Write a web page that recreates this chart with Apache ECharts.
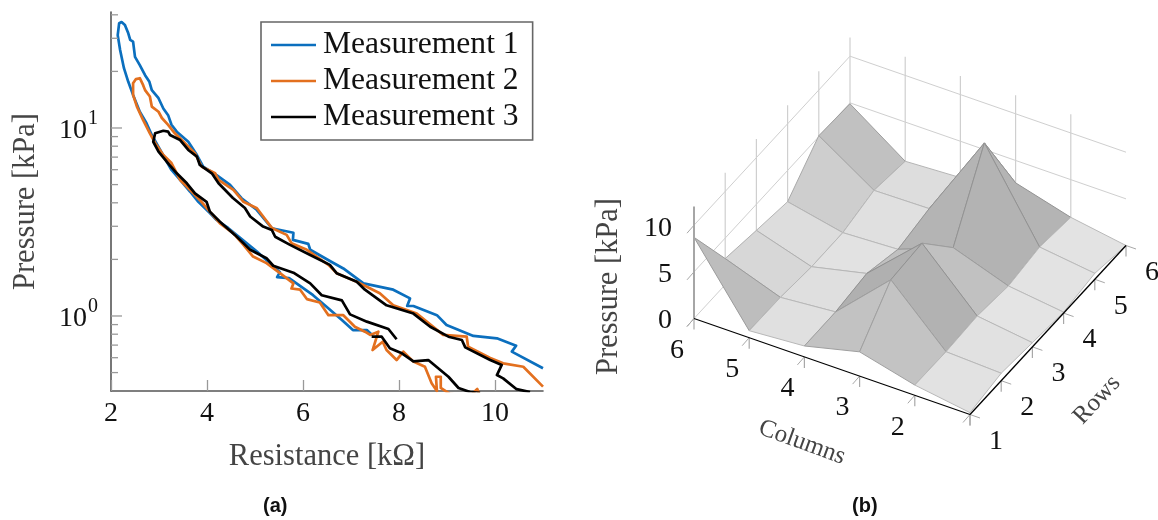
<!DOCTYPE html>
<html><head><meta charset="utf-8">
<style>html,body{margin:0;padding:0;background:#fff}#c{width:1158px;height:520px}</style>
<script src="https://cdn.jsdelivr.net/npm/echarts@6/dist/echarts.min.js"></script>
</head><body><div id="c"></div>
<script>
var measurement1 = [[11.0,.527],[10.35,.646],[10.44,.695],[10.04,.761],[9.55,.783],[8.99,.895],[8.79,1.01],[8.30,1.13],[8.17,1.13],[8.23,1.24],[7.88,1.38],[7.26,1.49],[6.84,1.79],[6.56,1.96],[6.15,2.25],[6.11,2.42],[5.79,2.54],[5.80,2.77],[5.35,2.93],[5.04,3.66],[4.72,4.23],[4.48,4.98],[4.20,5.62],[3.92,6.22],[3.79,7.18],[3.61,8.45],[3.37,9.56],[3.26,10.4],[3.19,11.7],[3.09,12.7],[2.99,14.4],[2.85,15.9],[2.80,17.6],[2.71,19.1],[2.60,21.6],[2.50,23.9],[2.46,28.8],[2.40,29.4],[2.36,31.9],[2.29,35.3],[2.22,36.6],[2.17,36.1],[2.14,31.2],[2.19,26.0],[2.27,20.8],[2.36,17.6],[2.46,15.0],[2.60,12.2],[2.74,10.6],[2.85,9.18],[3.06,7.36],[3.26,5.98],[3.44,5.29],[3.65,4.58],[3.82,4.05],[4.06,3.53],[4.20,3.24],[4.44,2.94],[5.04,2.20],[5.52,1.71],[5.46,1.61],[5.71,1.59],[6.21,1.29],[6.49,1.12],[6.81,.952],[7.04,.842],[7.33,.842],[7.44,.793]];
var measurement2 = [[11.0,.421],[10.59,.537],[10.17,.560],[9.90,.598],[9.44,.686],[9.41,.776],[8.92,.793],[8.37,1.03],[7.88,1.14],[7.60,1.32],[7.12,1.52],[6.70,1.69],[6.53,1.87],[6.08,2.25],[5.76,2.44],[5.66,2.70],[5.35,2.94],[5.17,3.38],[5.04,3.74],[4.76,4.05],[4.55,4.68],[4.24,5.29],[4.17,5.74],[3.89,6.22],[3.75,7.33],[3.51,8.45],[3.33,9.37],[3.19,10.4],[3.06,11.3],[2.99,12.2],[2.85,13.0],[2.81,14.7],[2.71,15.9],[2.67,16.9],[2.60,18.4],[2.52,18.2],[2.46,17.3],[2.46,15.0],[2.54,13.0],[2.67,11.0],[2.81,9.37],[2.92,8.32],[3.09,7.18],[3.26,6.51],[3.44,5.29],[3.65,4.68],[3.85,4.14],[4.03,3.66],[4.27,3.11],[4.55,2.75],[4.76,2.39],[4.96,2.07],[5.24,1.91],[5.52,1.69],[5.80,1.49],[5.76,1.40],[5.94,1.38],[6.08,1.23],[6.35,1.18],[6.53,1.01],[6.84,1.01],[7.08,.877],[7.29,.825],[7.40,.793],[7.57,.825],[7.45,.659],[7.66,.730],[7.74,.659],[7.95,.583],[8.09,.646],[8.30,.572],[8.54,.537],[8.68,.439],[8.79,.399],[8.77,.475],[8.87,.475],[8.87,.414],[9.06,.385],[9.48,.375],[9.63,.409],[9.69,.375]];
var measurement3 = [[10.73,.394],[10.45,.408],[10.17,.466],[10.04,.485],[10.14,.549],[9.90,.583],[9.38,.681],[9.31,.745],[9.03,.776],[8.65,.877],[8.30,1.03],[7.74,1.14],[7.29,1.38],[7.12,1.52],[6.70,1.69],[6.56,1.87],[6.15,2.11],[5.73,2.39],[5.42,2.64],[5.35,2.87],[5.17,2.99],[4.90,3.38],[4.79,3.75],[4.54,4.24],[4.24,5.08],[4.10,5.74],[3.85,6.36],[3.79,7.04],[3.61,7.64],[3.44,8.63],[3.23,9.18],[3.19,9.56],[3.09,9.67],[2.92,9.37],[2.88,8.45],[2.99,7.48],[3.19,6.49],[3.37,5.74],[3.58,5.08],[3.75,4.49],[3.99,4.05],[4.06,3.59],[4.27,3.17],[4.58,2.70],[4.90,2.25],[5.24,2.03],[5.38,1.85],[5.80,1.70],[6.15,1.49],[6.39,1.29],[6.81,1.21],[6.98,1.02],[7.33,.933],[7.78,.853],[7.95,.752],[7.95,null],[7.43,.776],[7.64,.776],[7.81,.673],[8.06,.633],[8.30,.574],[8.61,.583],[9.03,.475],[9.24,.414],[9.48,.394],[9.69,.39]];
var xTickValues = [2,4,6,8,10];
var yMajorTicks = [1,10];
var yMinorTicks = [.5,.6,.7,.8,.9,2,3,4,5,6,7,8,9,20,30,40];

var columnValues = [6,5,4,3,2,1];
var rowValues = [1,2,3,4,5,6];
var zTicks = [0,5,10];
// pressure: one line per row (1..6), values in column order 6..1
var pressureRow1 = [8.7,0.75,1.17,2.6,1.1,0.2];
var pressureRow2 = [2.8,0.7,1.2,6.7,1.05,0.8];
var pressureRow3 = [2.2,0.36,1.7,7.0,1.25,0.45];
var pressureRow4 = [1.65,0.39,0.66,2.9,0.85,0.1];
var pressureRow5 = [5.1,1.3,1.4,10.5,1.4,0.64];
var pressureRow6 = [4.9,0.8,1.1,2.6,0.96,0];
var pressure = [pressureRow1,pressureRow2,pressureRow3,pressureRow4,pressureRow5,pressureRow6];

var SERIF = '"Liberation Serif"';
var DIGIT = 28, TITLE = 30.5;
var ZTOP = 12;
// oblique projection of (column, row, pressure) into the hidden axes of the right-hand plot
var STEP = {cx:55.2, cy:19.2, rx:31.2, ry:33.8, z:9.33, base:96};
function proj(c,r,z){
  return [(6-c)*STEP.cx+(r-1)*STEP.rx, STEP.base-(6-c)*STEP.cy+(r-1)*STEP.ry+z*STEP.z];
}
function P(api,c,r,z){return api.coord(proj(c,r,z));}
function line(a,b,col,w){return {type:'line',shape:{x1:a[0],y1:a[1],x2:b[0],y2:b[1]},style:{stroke:col,lineWidth:w||1,fill:null},silent:true};}
function txt(s,x,y,opt){opt=opt||{};return {type:'text',x:x,y:y,rotation:opt.rot||0,silent:true,
  style:{text:s,fill:opt.fill||'#111',font:(opt.size||DIGIT)+'px '+SERIF,align:opt.align||'center',verticalAlign:'middle'}};}

var cells=[];
for(var ri=4;ri>=0;ri--){for(var ci=0;ci<5;ci++){cells.push([ci,ri]);}}

function gray(m){var g=Math.round(Math.max(165,Math.min(232,238-15*m)));return g;}
function rgb(g){return 'rgb('+g+','+g+','+g+')';}

var GRID='#cfcfcf', TICK='#a8a8a8';

var option={
  animation:false,
  backgroundColor:'#fff',
  grid:[
    {left:111,top:12,width:432,height:379,containLabel:false},
    {left:694,top:37,width:432,height:377.5,containLabel:false}
  ],
  xAxis:[
    {type:'value',gridIndex:0,min:2,max:11,
     name:'Resistance [k\u03a9]',nameLocation:'middle',nameGap:50,
     nameTextStyle:{fontFamily:SERIF,fontSize:TITLE,color:'#444'},
     axisLine:{show:true,onZero:false,lineStyle:{color:'#555',width:1.6}},
     axisTick:{show:true,inside:true,length:11,customValues:xTickValues,lineStyle:{color:'#999',width:1.3}},
     axisLabel:{customValues:xTickValues,margin:9,fontFamily:SERIF,fontSize:DIGIT,color:'#111'},
     splitLine:{show:false}},
    {type:'value',gridIndex:1,min:0,max:432,show:false}
  ],
  yAxis:[
    {type:'log',logBase:10,gridIndex:0,min:0.399,max:41.4,
     name:'Pressure [kPa]',nameLocation:'middle',nameGap:70,nameRotate:90,
     nameTextStyle:{fontFamily:SERIF,fontSize:TITLE,color:'#444'},
     axisLine:{show:true,onZero:false,lineStyle:{color:'#555',width:1.6}},
     axisTick:{show:false},
     axisLabel:{show:false},
     splitLine:{show:false},minorTick:{show:false},minorSplitLine:{show:false}},
    {type:'value',gridIndex:1,min:0,max:377.5,show:false}
  ],
  legend:{
    left:261,top:22,orient:'vertical',
    data:['Measurement 1','Measurement 2','Measurement 3'],
    itemWidth:45,itemHeight:2.6,itemGap:4,
    padding:[7,14,7,10],
    borderColor:'#666',borderWidth:1.6,backgroundColor:'#fff',
    textStyle:{fontFamily:SERIF,fontSize:31.6,color:'#111',padding:[0,0,0,2]},
    selectedMode:false,
    icon:'rect'
  },
  series:[
    lineSeries('Measurement 1',measurement1,'#0b6fbe'),
    lineSeries('Measurement 2',measurement2,'#e3701f'),
    lineSeries('Measurement 3',measurement3,'#000000'),
    // y ticks and labels of the log axis
    {type:'custom',xAxisIndex:0,yAxisIndex:0,coordinateSystem:'cartesian2d',silent:true,clip:false,z:5,
     data:yMinorTicks.map(function(v){return [2,v,7];}).concat(yMajorTicks.map(function(v){return [2,v,11];})),
     renderItem:function(p,api){
       var a=api.coord([api.value(0),api.value(1)]);
       return line(a,[a[0]+api.value(2),a[1]],'#999',1.3);
     }},
    {type:'custom',xAxisIndex:0,yAxisIndex:0,coordinateSystem:'cartesian2d',silent:true,clip:false,z:5,
     data:yMajorTicks.map(function(v){return [2,v];}),
     renderItem:function(p,api){
       var a=api.coord([api.value(0),api.value(1)]);
       var e=api.value(1)>=10?'1':'0';
       return {type:'group',children:[
         {type:'text',x:a[0]-24,y:a[1]+3,silent:true,style:{text:'10',align:'right',verticalAlign:'middle',font:DIGIT+'px '+SERIF,fill:'#111'}},
         {type:'text',x:a[0]-13,y:a[1]-9,silent:true,style:{text:e,align:'right',verticalAlign:'middle',font:'20px '+SERIF,fill:'#111'}}
       ]};
     }},
    // back walls of the 3D box
    {type:'custom',xAxisIndex:1,yAxisIndex:1,coordinateSystem:'cartesian2d',silent:true,clip:false,z:1,
     data:[[0,0]],
     renderItem:function(p,api){
       var ch=[];
       zTicks.forEach(function(z){
         ch.push(line(P(api,6,1,z),P(api,6,6,z),GRID));
         ch.push(line(P(api,6,6,z),P(api,1,6,z),GRID));
       });
       rowValues.slice(1,6).forEach(function(r){ch.push(line(P(api,6,r,0),P(api,6,r,ZTOP),GRID,1.2));});
       columnValues.slice(1,5).forEach(function(c){ch.push(line(P(api,c,6,0),P(api,c,6,ZTOP),GRID,1.2));});
       return {type:'group',children:ch};
     }},
    // surface patches, far to near
    {type:'custom',xAxisIndex:1,yAxisIndex:1,coordinateSystem:'cartesian2d',silent:true,clip:false,z:2,
     data:cells,
     renderItem:function(p,api){
       var ci=api.value(0), ri=api.value(1);
       var c0=columnValues[ci],c1=columnValues[ci+1],r0=rowValues[ri],r1=rowValues[ri+1];
       var z00=pressure[ri][ci],z01=pressure[ri][ci+1],z10=pressure[ri+1][ci],z11=pressure[ri+1][ci+1];
       var g=gray((z00+z01+z10+z11)/4);
       return {type:'polygon',silent:true,
         shape:{points:[P(api,c0,r0,z00),P(api,c1,r0,z01),P(api,c1,r1,z11),P(api,c0,r1,z10)]},
         style:{fill:rgb(g),stroke:rgb(Math.round(g*0.82)),lineWidth:1,lineJoin:'round'}};
     }},
    // front axes, ticks, labels
    {type:'custom',xAxisIndex:1,yAxisIndex:1,coordinateSystem:'cartesian2d',silent:true,clip:false,z:3,
     data:[[0,0]],
     renderItem:function(p,api){
       var ch=[];
       ch.push(line(P(api,6,1,0),P(api,6,1,ZTOP),'#a6a6a6',2));
       zTicks.forEach(function(z){
         var a=P(api,6,1,z);
         ch.push(line(a,[a[0]-7,a[1]+8],TICK));
         ch.push(txt(String(z),a[0]-22,a[1]+(z?3:2.5),{align:'right'}));
       });
       columnValues.slice(0,6).forEach(function(c){
         var a=P(api,c,1,0);
         ch.push(line(a,[a[0],a[1]+11],TICK,1.2));
         ch.push(line(a,[a[0]-7,a[1]+8],TICK));
         if(c>1){ch.push(txt(String(c),a[0]-17,a[1]+32));}
       });
       rowValues.forEach(function(r){
         var a=P(api,1,r,0);
         ch.push(line(a,[a[0],a[1]+11],TICK,1.2));
         ch.push(line(a,[a[0]+10,a[1]+3.5],TICK));
         ch.push(txt(String(r),a[0]+26,a[1]+27));
       });
       ch.push(line(P(api,6,1,0),P(api,1,1,0),'#000',1.3));
       ch.push(line(P(api,1,1,0),P(api,1,6,0),'#000',1.3));
       var y=P(api,6,1,0), cm=P(api,3.5,1,0), rm=P(api,1,3.5,0);
       ch.push(txt('Pressure [kPa]',y[0]-85,y[1]-32,{rot:Math.PI/2,size:TITLE,fill:'#444'}));
       ch.push(txt('Columns',cm[0]-30,cm[1]+76,{rot:-20*Math.PI/180,size:25,fill:'#444'}));
       ch.push(txt('Rows',rm[0]+49,rm[1]+70,{rot:47*Math.PI/180,size:25,fill:'#444'}));
       return {type:'group',children:ch};
     }}
  ],
  graphic:[
    {type:'text',left:263,top:496,silent:true,style:{text:'(a)',font:'bold 20px "Liberation Sans"',fill:'#111'}},
    {type:'text',left:852,top:496,silent:true,style:{text:'(b)',font:'bold 20px "Liberation Sans"',fill:'#111'}}
  ]
};
function lineSeries(name,data,color){
  return {name:name,type:'line',xAxisIndex:0,yAxisIndex:0,data:data,showSymbol:false,symbol:'none',
    clip:true,connectNulls:false,z:4,
    lineStyle:{color:color,width:2.7,join:'round'},itemStyle:{color:color},emphasis:{disabled:true}};
}
var chart=echarts.init(document.getElementById('c'),null,{renderer:'canvas'});
chart.setOption(option);
</script></body></html>
